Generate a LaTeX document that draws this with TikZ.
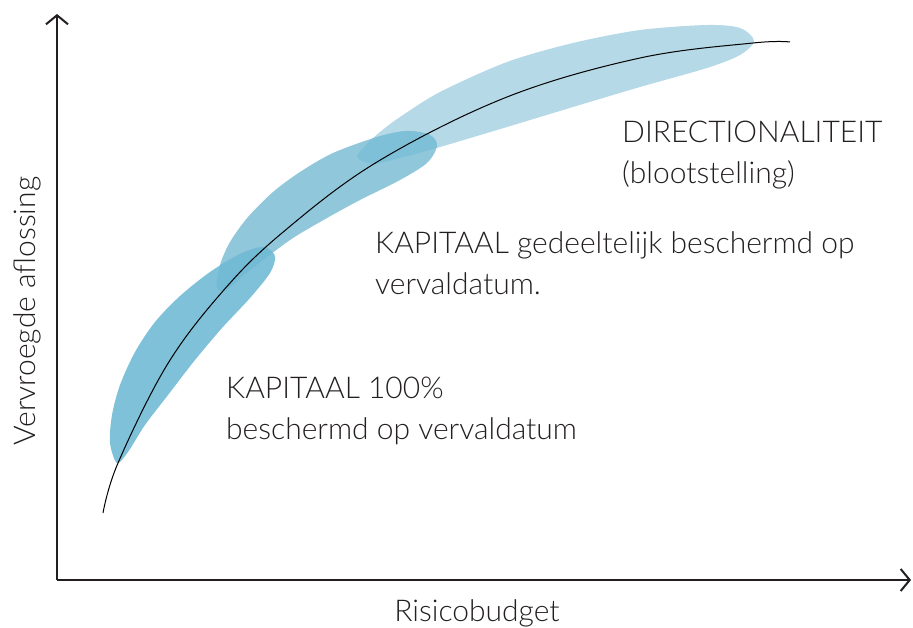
\documentclass[tikz,border=0pt]{standalone}
\usepackage{fontspec}
\setmainfont{Lato Light}
\usetikzlibrary{arrows.meta}

\definecolor{inkgray}{HTML}{231F20}
\definecolor{blobfull}{HTML}{7EC1D9}
\definecolor{blobpart}{HTML}{91C7DB}
\definecolor{blobdir}{HTML}{B5D9E7}
\definecolor{mixlow}{HTML}{73BAD5}
\definecolor{mixhigh}{HTML}{7FC0D9}

\begin{document}
\begin{tikzpicture}[x={(1pt,0pt)},y={(0pt,-1pt)},>={Straight Barb[length=9pt,width=22pt]},
  lbl/.style={font=\fontsize{30}{41}\selectfont,text=inkgray,inner sep=0pt,align=left}]
  \useasboundingbox (0,0) rectangle (913,628);
  % Zones along the curve
  \path[save path=\dirpath] plot[smooth cycle] coordinates {(357,157) (366,145) (380,132) (400,117) (440,92) (507,62) (573,43) (640,30) (707,25) (740,28) (754,41) (740,55) (707,68) (640,87) (573,107) (507,127) (440,147) (400,158) (373,164)};
  \path[save path=\partpath] plot[smooth cycle] coordinates {(217,287) (220,265) (230,242) (248,217) (273,192) (300,172) (333,153) (377,137) (407,131) (430,135) (437,146) (427,163) (400,180) (360,200) (327,218) (293,238) (267,257) (245,274) (225,291)};
  \path[save path=\fullpath] plot[smooth cycle] coordinates {(117,463) (110,443) (112,415) (120,385) (135,352) (155,322) (180,296) (210,272) (240,254) (263,247) (275,256) (270,273) (250,298) (222,328) (195,360) (168,395) (145,425) (128,452)};
  \fill[blobdir][use path=\dirpath];
  \fill[blobpart][use path=\partpath];
  \fill[blobfull][use path=\fullpath];
  % Overlaps
  \begin{scope}
    \clip[use path=\fullpath];
    \fill[mixlow][use path=\partpath];
  \end{scope}
  \begin{scope}
    \clip[use path=\dirpath];
    \fill[mixhigh][use path=\partpath];
  \end{scope}
  % Curve
  \draw[black,line width=1pt] plot[smooth,tension=0.6] coordinates {(103,513) (118,463) (167,365) (223,291) (282,233) (377,162) (507,97) (640,58) (753,43) (790,42)};
  % Axes
  \coordinate (O) at (57,580);
  \coordinate (xend) at (911,580);
  \coordinate (yend) at (57,14);
  \draw[->,inkgray,line width=2pt] (O)--(xend);
  \draw[->,inkgray,line width=2pt] (O)--(yend);
  \node[lbl,rotate=90] (ylabel) at (27,311) {Vervroegde aflossing};
  \node[lbl,anchor=base] (xlabel) at (477,621) {Risicobudget};
  % Zone labels (base = last line)
  \node[lbl,anchor=base west] (labdir) at (622,184) {DIRECTIONALITEIT\\(blootstelling)};
  \node[lbl,anchor=base west] (labpart) at (375,295) {KAPITAAL gedeeltelijk beschermd op\\vervaldatum.};
  \node[lbl,anchor=base west] (labfull) at (226,439) {KAPITAAL 100\%\\beschermd op vervaldatum};
\end{tikzpicture}
\end{document}
